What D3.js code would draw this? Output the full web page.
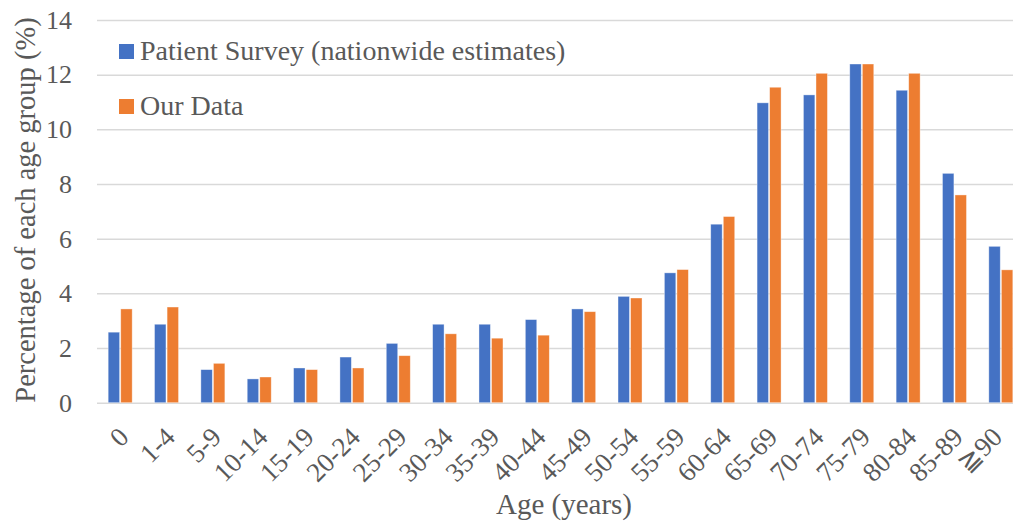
<!DOCTYPE html>
<html>
<head>
<meta charset="utf-8">
<script src="https://cdn.jsdelivr.net/npm/d3@7"></script>
<style>
  html, body { margin: 0; padding: 0; background: #fff; }
  svg { display: block; }
  text { font-family: "Liberation Serif", "Times New Roman", serif; fill: #595959; }
</style>
</head>
<body>
<svg id="chart" width="1013" height="527"></svg>
<script>
const categories = ["0","1-4","5-9","10-14","15-19","20-24","25-29","30-34","35-39","40-44","45-49","50-54","55-59","60-64","65-69","70-74","75-79","80-84","85-89","\u226790"];
const seriesNames = ["Patient Survey (nationwide estimates)", "Our Data"];
const patientSurvey = [2.58,2.87,1.21,0.87,1.27,1.67,2.17,2.87,2.87,3.04,3.43,3.89,4.75,6.53,10.97,11.26,12.39,11.43,8.39,5.72];
const ourData      = [3.43,3.50,1.44,0.94,1.21,1.27,1.72,2.52,2.36,2.47,3.33,3.83,4.87,6.81,11.54,12.05,12.39,12.05,7.60,4.86];
const yTicks = [0,2,4,6,8,10,12,14];
const colors = ["#4472C4", "#ED7D31"];

const svg = d3.select("#chart");
const plot = {left: 97, right: 1024, top: 20, bottom: 402.7};

const x0 = d3.scaleBand().domain(categories).range([plot.left, plot.right]).padding(0);
const x1 = d3.scaleBand().domain(seriesNames)
  .range([x0.bandwidth()/2 - 12, x0.bandwidth()/2 + 12]).paddingInner(0.09);
const y = d3.scaleLinear().domain([0, 14]).range([plot.bottom, plot.top]);

// gridlines + y tick labels
const yAxis = svg.append("g")
  .attr("transform", `translate(${plot.left},0)`)
  .call(d3.axisLeft(y).tickValues(yTicks).tickSize(-(1013 - plot.left)).tickPadding(25).tickFormat(d3.format("d")));
yAxis.select(".domain").remove();
yAxis.selectAll(".tick line").attr("stroke", "#d9d9d9").attr("stroke-width", 1.5);
yAxis.selectAll(".tick text").attr("font-size", 26).attr("fill", "#595959")
  .style("font-family", '"Liberation Serif", serif');

// bars
const rows = categories.map((c, i) => ({cat: c, vals: [patientSurvey[i], ourData[i]]}));
const groups = svg.append("g").selectAll("g").data(rows).join("g")
  .attr("transform", d => `translate(${x0(d.cat)},0)`);
groups.selectAll("rect").data(d => d.vals.map((v, k) => ({k, v}))).join("rect")
  .attr("x", d => x1(seriesNames[d.k]))
  .attr("width", x1.bandwidth())
  .attr("y", d => y(d.v))
  .attr("height", d => y(0) - y(d.v))
  .attr("fill", d => colors[d.k])
  .attr("stroke", "#ffffff").attr("stroke-opacity", 0.5).attr("stroke-width", 0.75);

// x tick labels
const xAxis = svg.append("g")
  .attr("transform", `translate(0,${plot.bottom})`)
  .call(d3.axisBottom(x0).tickSize(0).tickPadding(0));
xAxis.select(".domain").remove();
const lastCat = categories[categories.length - 1];
xAxis.selectAll(".tick text")
  .attr("font-size", 27).attr("fill", "#595959")
  .style("font-family", '"Liberation Serif", "DejaVu Serif", serif')
  .attr("text-anchor", "end")
  .attr("dy", 0).attr("y", 0)
  .attr("transform", d => `translate(${d === lastCat ? 3 : 10},36) rotate(-45)`);

// axis titles
svg.append("text")
  .attr("x", 564).attr("y", 514)
  .attr("text-anchor", "middle").attr("font-size", 29)
  .text("Age (years)");
svg.append("text")
  .attr("transform", "translate(35,210) rotate(-90)")
  .attr("text-anchor", "middle").attr("font-size", 28.5)
  .text("Percentage of each age group (%)");

// legend
const legend = svg.append("g");
seriesNames.forEach((s, i) => {
  const g = legend.append("g").attr("transform", `translate(119,${44 + i*55})`);
  g.append("rect").attr("width", 15).attr("height", 15).attr("fill", colors[i]);
  g.append("text").attr("x", 21).attr("y", 16).attr("font-size", 28).text(s);
});
</script>
</body>
</html>
